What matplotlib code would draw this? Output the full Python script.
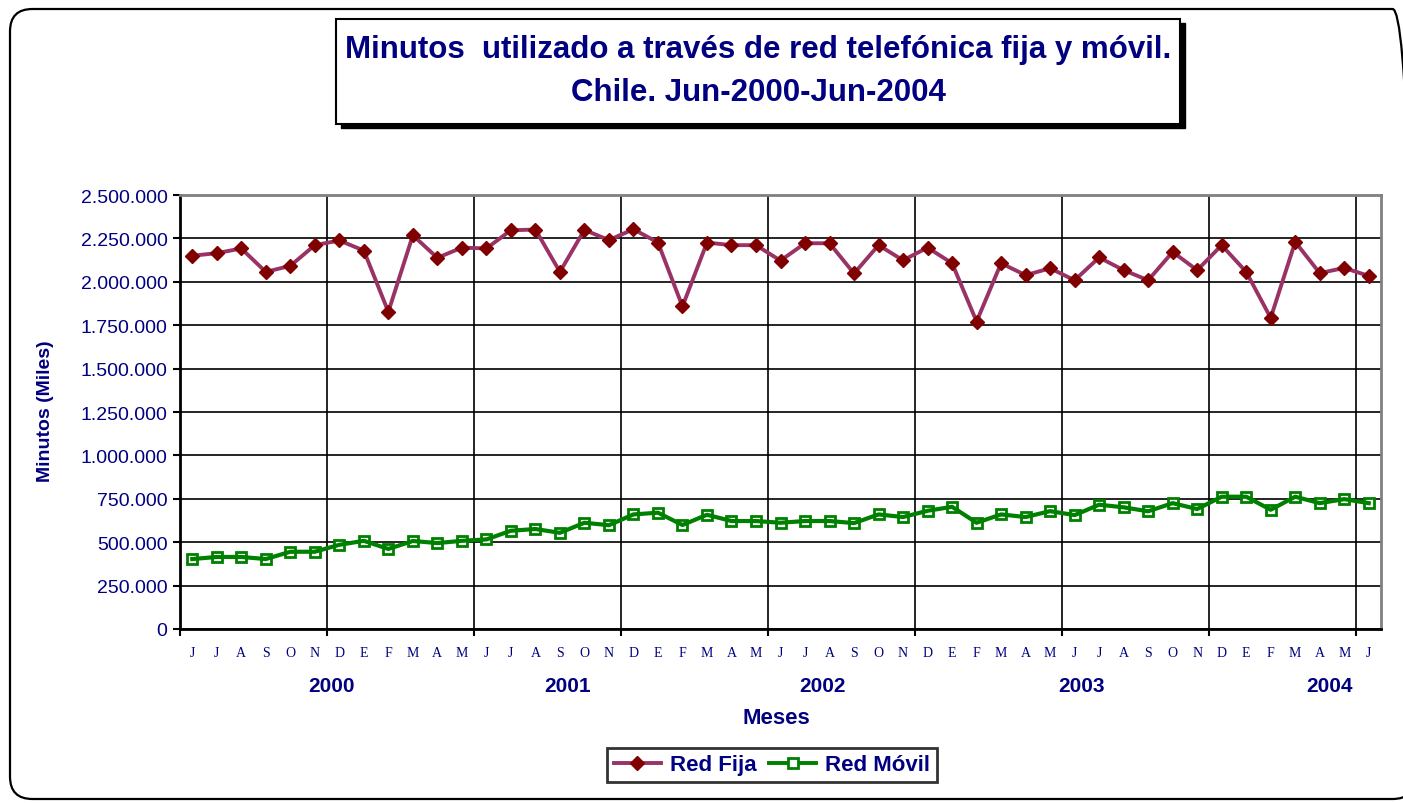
import matplotlib.pyplot as plt
import numpy as np
from matplotlib.patches import Rectangle, FancyBboxPatch
from matplotlib import font_manager

# Datos mensuales Jun-2000 a Jun-2004 (miles de minutos)
meses = ['J', 'J', 'A', 'S', 'O', 'N', 'D', 'E', 'F', 'M', 'A', 'M'] * 4 + ['J']
anios = ['2000', '2001', '2002', '2003', '2004']
anio_pos = [5.7, 15.3, 25.7, 36.3, 46.4]

red_fija = [2150000, 2165000, 2192000, 2057000, 2092000, 2211000, 2238000, 2180000,
            1827000, 2268000, 2138000, 2197000, 2192000, 2297000, 2301000, 2057000,
            2299000, 2240000, 2303000, 2226000, 1858000, 2226000, 2211000, 2211000,
            2122000, 2222000, 2222000, 2048000, 2211000, 2124000, 2197000, 2107000,
            1771000, 2107000, 2038000, 2078000, 2009000, 2140000, 2067000, 2009000,
            2172000, 2067000, 2211000, 2057000, 1792000, 2230000, 2050000, 2080000,
            2034000]
red_movil = [403000, 415000, 415000, 403000, 445000, 445000, 485000, 508000,
             461000, 507000, 495000, 508000, 516000, 566000, 576000, 554000,
             612000, 598000, 660000, 670000, 599000, 658000, 622000, 622000,
             612000, 622000, 622000, 610000, 660000, 645000, 681000, 704000,
             612000, 660000, 645000, 679000, 656000, 716000, 701000, 678000,
             725000, 691000, 762000, 762000, 687000, 762000, 725000, 748000,
             725000]

navy = '#000080'
plt.rcParams['font.family'] = ['Liberation Sans', 'DejaVu Sans']

# titulo en letra estrecha si existe
nombres = {f.name for f in font_manager.fontManager.ttflist}
if 'Liberation Sans Narrow' in nombres:
    fuente_titulo, talla_titulo = ['Liberation Sans Narrow'], 18.5
else:
    fuente_titulo, talla_titulo = ['Liberation Sans'], 22.5

W, H = 1403, 804
fig = plt.figure(figsize=(W / 100, H / 100), dpi=100)

# marco exterior redondeado
fig.patches.append(FancyBboxPatch((10 / W, 4 / H), 1405 / W, 790 / H,
                                  boxstyle='round,pad=0,rounding_size=0.016',
                                  mutation_aspect=W / H,
                                  transform=fig.transFigure, fill=False,
                                  edgecolor='black', linewidth=1.6, zorder=0))

# caja del titulo con sombra
fig.patches.append(Rectangle((341 / W, 1 - 129 / H), 844 / W, 105 / H,
                             transform=fig.transFigure, facecolor='black',
                             edgecolor='black', zorder=1))
fig.patches.append(Rectangle((336 / W, 1 - 125 / H), 844 / W, 105 / H,
                             transform=fig.transFigure, facecolor='white',
                             edgecolor='black', linewidth=1.5, zorder=2))
fig.text(758 / W, 1 - 50 / H, 'Minutos  utilizado a través de red telefónica fija y móvil.',
         ha='center', va='center', fontsize=talla_titulo, fontweight='bold',
         family=fuente_titulo, color=navy, zorder=3)
fig.text(758 / W, 1 - 93 / H, 'Chile. Jun-2000-Jun-2004',
         ha='center', va='center', fontsize=talla_titulo, fontweight='bold',
         family=fuente_titulo, color=navy, zorder=3)

ax = fig.add_axes([180 / W, 1 - 630 / H, 1201 / W, 434 / H])
x = np.arange(len(meses))

ax.plot(x, red_fija, color='#993366', linewidth=2.8, marker='D', markersize=7,
        markerfacecolor='#800000', markeredgecolor='#800000', label='Red Fija', zorder=3)
# marcadores primero y la linea encima, como en el original
ax.plot(x, red_movil, linestyle='none', marker='s', markersize=6.5,
        markerfacecolor='white', markeredgecolor='#008000', markeredgewidth=2, zorder=3)
ax.plot(x, red_movil, color='#008000', linewidth=3, zorder=4)
ax.plot([], [], color='#008000', linewidth=2.8, marker='s', markersize=6.5,
        markerfacecolor='white', markeredgecolor='#008000', markeredgewidth=2,
        label='Red Móvil')

ax.set_xlim(-0.5, len(meses) - 0.5)
ax.set_ylim(0, 2500000)
yt = np.arange(0, 2500001, 250000)
ax.set_yticks(yt)
ax.set_yticklabels(['{:,.0f}'.format(v).replace(',', '.') for v in yt],
                   fontsize=14, color=navy)
ax.set_xticks(np.arange(-0.5, len(meses), 6))
ax.set_xticklabels([])
ax.set_xticks(x, minor=True)
ax.set_xticklabels(meses, minor=True, fontsize=10, color=navy,
                   family=['Liberation Serif'])
ax.tick_params(axis='x', which='minor', length=0, pad=12)
ax.tick_params(axis='x', which='major', length=5, width=1.5, direction='out')
ax.tick_params(axis='y', length=5, width=1.5, direction='out', pad=4)

ax.grid(True, which='major', color='black', linewidth=1.2)
ax.set_axisbelow(True)
for s in ['left', 'bottom']:
    ax.spines[s].set_linewidth(2)
for s in ['top', 'right']:
    ax.spines[s].set_color('#808080')
    ax.spines[s].set_linewidth(2)

for a, p in zip(anios, anio_pos):
    ax.text(p, -0.13, a, transform=ax.get_xaxis_transform(), ha='center', va='center',
            fontsize=15, fontweight='bold', color=navy)

fig.text(776 / W, 1 - 719 / H, 'Meses', ha='center', va='center',
         fontsize=16, fontweight='bold', color=navy)
fig.text(46 / W, 1 - 411 / H, 'Minutos (Miles)', ha='center', va='center',
         rotation=90, fontsize=14, fontweight='bold', color=navy)

leg = fig.legend(loc='center', bbox_to_anchor=(772 / W, 1 - 766 / H), ncol=2,
                 frameon=True, fancybox=False, edgecolor='black', handlelength=2.1,
                 columnspacing=0.6, handletextpad=0.4, borderpad=0.3,
                 prop={'weight': 'bold', 'size': 16})
leg.get_frame().set_linewidth(2)
for t in leg.get_texts():
    t.set_color(navy)

fig.savefig('out.png', dpi=100)
